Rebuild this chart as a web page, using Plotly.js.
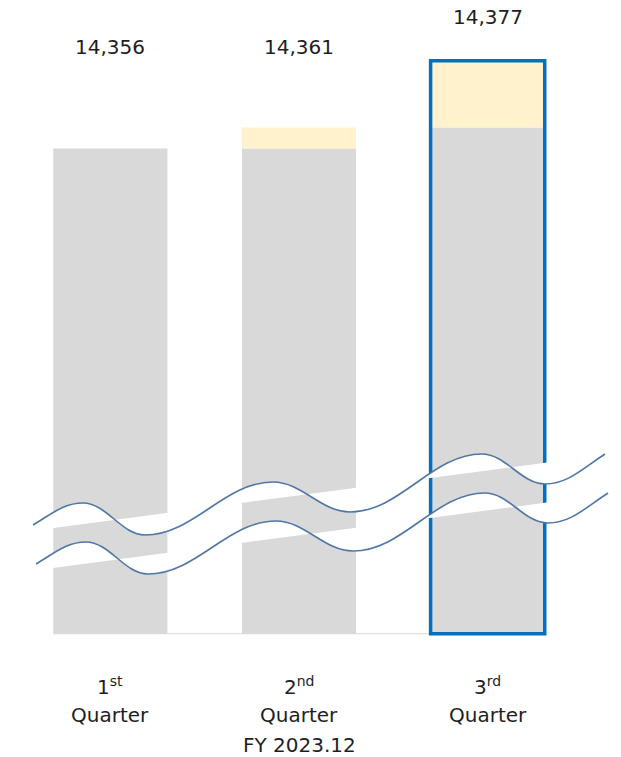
<!DOCTYPE html>
<html>
<head>
<meta charset="utf-8">
<script src="https://cdn.plot.ly/plotly-3.0.1.min.js"></script>
<style>
  html, body { margin: 0; padding: 0; background: #ffffff; }
  #chart { width: 621px; height: 757px; }
</style>
</head>
<body>
<div id="chart"></div>
<script>
// Quarterly totals for FY 2023.12
const categories = ['1st Quarter', '2nd Quarter', '3rd Quarter'];
const ordinalNumbers = ['1', '2', '3'];
const ordinalSuffixes = ['st', 'nd', 'rd'];
const quarterWord = 'Quarter';
const totals = [14356, 14361, 14377];
const fiscalYearLabel = 'FY 2023.12';
const highlightIndex = 2;

// The value axis is broken: bars start from this floor value
const axisFloor = 14240;
const axisRange = [14238.5, 14391.5];

// Each bar = previous quarter's total (grey) + increase over it (yellow)
const priorLevel = totals.map((v, i) => (i === 0 ? v : totals[i - 1]));
const increase = totals.map((v, i) => v - priorLevel[i]);

const W = 621, H = 757;
const margin = { l: 16, r: 39, t: 0, b: 117 };
const plotW = W - margin.l - margin.r;
const plotH = H - margin.t - margin.b;
const barWidth = 0.605;

const GREY = '#d9d9d9';
const YELLOW = '#fff2cc';
const BLUE = '#0070c0';
const WAVE = '#4f77a6';
const TEXT = '#1e1e1e';
const FONT = 'DejaVu Sans, Verdana, sans-serif';

// pixel -> paper conversion for the decorative break mark
const toPaper = (px, py) => [(px - margin.l) / plotW, (margin.t + plotH - py) / plotH];
const fmtPt = (p) => { const q = toPaper(p[0], p[1]); return q[0].toFixed(5) + ',' + q[1].toFixed(5); };

// Break mark: a wavy line with a white gap between it and a slanted straight edge
const waveKnots = [[33, 525], [83, 503], [145, 535], [273, 482], [350, 512], [482, 454], [545, 484], [605, 454]];
const waveSlopes = [-0.6, 0, 0, 0, 0, 0, 0, -0.65];
const edgeA = [53, 528], edgeB = [543, 463];
const edgeSlope = (edgeB[1] - edgeA[1]) / (edgeB[0] - edgeA[0]);

function wavePath(dx, dy) {
  const pts = waveKnots.map(p => [p[0] + dx, p[1] + dy]);
  const k = 0.38;
  let d = 'M' + fmtPt(pts[0]);
  for (let i = 0; i < pts.length - 1; i++) {
    const a = pts[i], b = pts[i + 1];
    const w = b[0] - a[0];
    const c1 = [a[0] + w * k, a[1] + waveSlopes[i] * w * k];
    const c2 = [b[0] - w * k, b[1] - waveSlopes[i + 1] * w * k];
    d += ' C' + fmtPt(c1) + ' ' + fmtPt(c2) + ' ' + fmtPt(b);
  }
  return { d: d, first: pts[0], last: pts[pts.length - 1] };
}
function edgeY(x, dy) { return edgeA[1] + edgeSlope * (x - edgeA[0]) + dy; }

function breakShapes(dx, dy, edgeDy) {
  const w = wavePath(dx, dy);
  const gap = w.d +
    ' L' + fmtPt([w.last[0], edgeY(w.last[0], edgeDy)]) +
    ' L' + fmtPt([w.first[0], edgeY(w.first[0], edgeDy)]) + ' Z';
  return {
    fill: { type: 'path', xref: 'paper', yref: 'paper', path: gap, fillcolor: '#ffffff',
            line: { width: 0 }, layer: 'above' },
    stroke: { type: 'path', xref: 'paper', yref: 'paper', path: w.d, fillcolor: 'rgba(0,0,0,0)',
              line: { color: WAVE, width: 1.6 }, layer: 'above' }
  };
}
const upperBreak = breakShapes(0, 0, 0);
const lowerBreak = breakShapes(3, 39, 40);

const traces = [
  {
    type: 'bar', x: categories, y: priorLevel.map(v => v - axisFloor), base: axisFloor,
    width: barWidth, marker: { color: GREY, line: { width: 0 } }, hoverinfo: 'skip'
  },
  {
    type: 'bar', x: categories, y: increase, base: priorLevel,
    width: barWidth, marker: { color: YELLOW, line: { width: 0 } }, hoverinfo: 'skip'
  }
];

const shapes = [
  // baseline under the bars
  { type: 'line', xref: 'x', yref: 'y', x0: -barWidth / 2, x1: 2 + barWidth / 2,
    y0: axisFloor, y1: axisFloor, line: { color: GREY, width: 1 }, layer: 'above' },
  // highlighted quarter outline
  { type: 'rect', xref: 'x', yref: 'y',
    x0: highlightIndex - barWidth / 2, x1: highlightIndex + barWidth / 2,
    y0: axisFloor, y1: totals[highlightIndex],
    line: { color: BLUE, width: 3.5 }, fillcolor: 'rgba(0,0,0,0)', layer: 'above' },
  upperBreak.fill, lowerBreak.fill, upperBreak.stroke, lowerBreak.stroke
];

const annotations = [];
const valueLabelY = [0.9266, 0.9266, 0.9734];
totals.forEach((v, i) => {
  annotations.push({
    xref: 'x', yref: 'paper', x: categories[i], y: valueLabelY[i],
    text: v.toLocaleString('en-US'), showarrow: false, xanchor: 'center', yanchor: 'middle',
    font: { family: FONT, size: 20, color: TEXT }
  });
  annotations.push({
    xref: 'x', yref: 'paper', x: categories[i], y: -0.072,
    text: ordinalNumbers[i] + '<sup>' + ordinalSuffixes[i] + '</sup>', showarrow: false,
    xanchor: 'center', yanchor: 'middle', font: { family: FONT, size: 20, color: TEXT }
  });
  annotations.push({
    xref: 'x', yref: 'paper', x: categories[i], y: -0.1172,
    text: quarterWord, showarrow: false, xanchor: 'center', yanchor: 'middle',
    font: { family: FONT, size: 20, color: TEXT }
  });
});
annotations.push({
  xref: 'x', yref: 'paper', x: categories[1], y: -0.164,
  text: fiscalYearLabel, showarrow: false, xanchor: 'center', yanchor: 'middle',
  font: { family: FONT, size: 20, color: TEXT }
});

const layout = {
  width: W, height: H, margin: margin,
  paper_bgcolor: '#ffffff', plot_bgcolor: '#ffffff',
  barmode: 'overlay', showlegend: false, hovermode: false,
  xaxis: { type: 'category', range: [-0.5, 2.5], showgrid: false, zeroline: false,
           showline: false, showticklabels: false, ticks: '' },
  yaxis: { range: axisRange, visible: false, showgrid: false, zeroline: false },
  shapes: shapes,
  annotations: annotations,
  font: { family: FONT }
};

Plotly.newPlot('chart', traces, layout, { displayModeBar: false, staticPlot: true });
</script>
</body>
</html>
